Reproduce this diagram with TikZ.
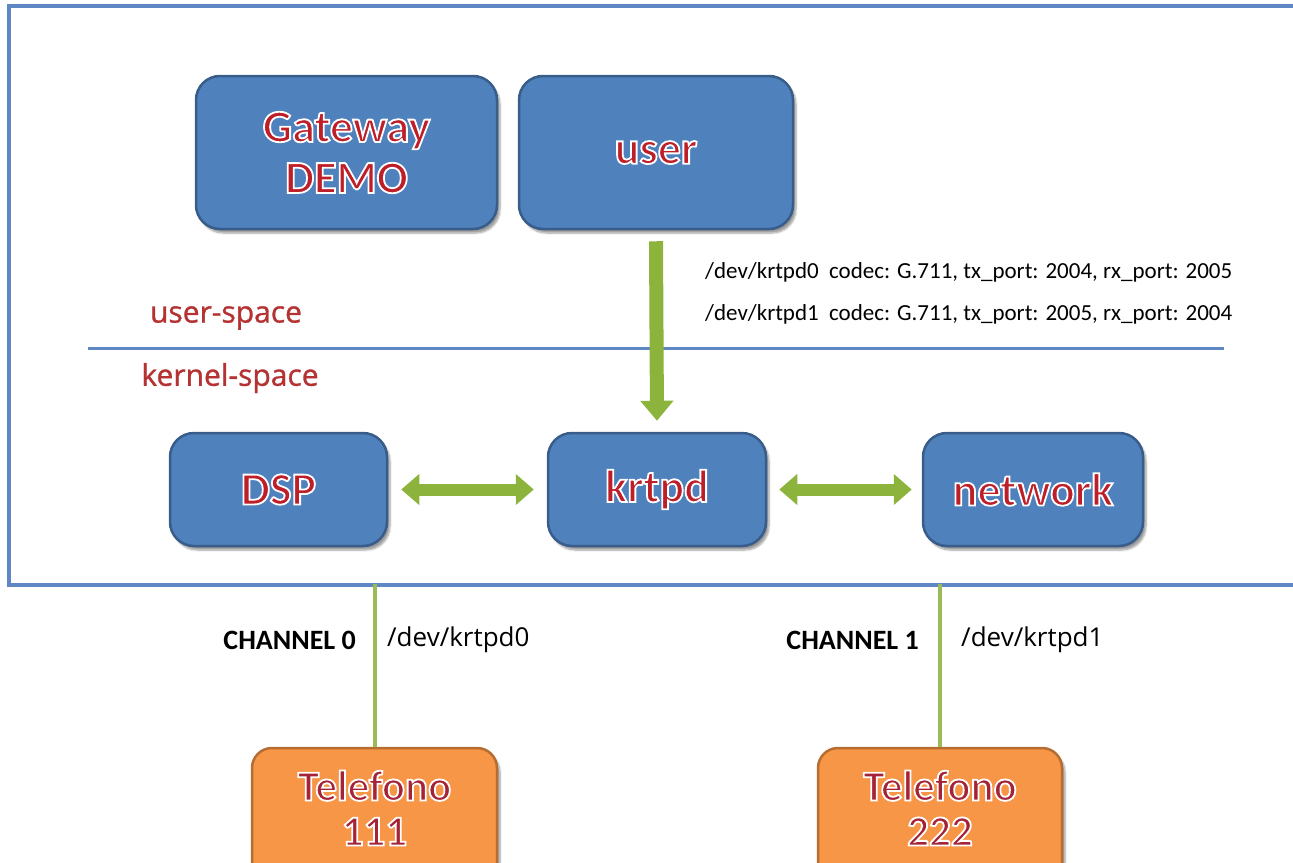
\documentclass[tikz,border=0pt]{standalone}
\usepackage{fontspec}
\setmainfont{Carlito}
\newfontfamily\segoe{Open Sans}
\newfontfamily\segoemed[FakeBold=1]{Open Sans}
\usetikzlibrary{arrows.meta,shadows.blur}
\definecolor{boxblue}{RGB}{79,129,189}
\definecolor{boxedge}{RGB}{56,93,138}
\definecolor{orangefill}{RGB}{247,150,70}
\definecolor{orangeedge}{RGB}{182,109,49}
\definecolor{txtred}{RGB}{190,30,40}
\definecolor{phred}{RGB}{165,35,55}
\definecolor{labred}{RGB}{180,50,50}
\definecolor{arrowgreen}{RGB}{140,180,60}
\definecolor{linegreen}{RGB}{155,187,89}
\definecolor{frameblue}{RGB}{95,135,195}
\newcommand{\glowtxt}[1]{\special{pdf:literal direct 2 Tr 1 1 1 RG 1.8 w}#1\special{pdf:literal direct 0 Tr}}
\begin{document}
\begin{tikzpicture}[x=1pt,y=-1pt,
  bluebox/.style={draw=boxedge, line width=2.5pt, fill=boxblue, rounded corners=24pt,
     inner sep=0pt, align=center, text=txtred, font=\fontsize{46}{51}\selectfont\bfseries,
     blur shadow={shadow xshift=3pt, shadow yshift=-4pt, shadow blur steps=6}},
  orangebox/.style={draw=orangeedge, line width=2.5pt, fill=orangefill, rounded corners=20pt,
     inner sep=0pt, blur shadow={shadow xshift=3pt, shadow yshift=-4pt, shadow blur steps=6}},
  phonetext/.style={align=center, inner sep=0pt, text=phred, font=\fontsize{43}{45}\selectfont\bfseries},
  bigarrow/.style={arrowgreen, line width=14pt, -{Triangle[width=32pt,length=20pt]}},
  dblarrow/.style={arrowgreen, line width=12pt, {Triangle[width=30pt,length=18pt]}-{Triangle[width=30pt,length=18pt]}},
  chanline/.style={linegreen, line width=4pt},
  sepline/.style={frameblue, line width=3pt},
  spacelabel/.style={labred, inner sep=0pt, font=\segoemed\fontsize{30}{34}\selectfont},
  conftext/.style={anchor=west, inner sep=0pt, font=\fontsize{23}{26}\selectfont},
  chantext/.style={anchor=east, inner sep=0pt, font=\fontsize{28}{30}\selectfont\bfseries},
  devtext/.style={anchor=west, inner sep=0pt, font=\segoe\fontsize{26}{28}\selectfont}
]
\useasboundingbox (0,0) rectangle (1293,862);
% outer frame
\draw[frameblue, line width=4pt] (1320,6) -- (9,6) -- (9,585) -- (1320,585);
% separator
\coordinate (sepL) at (88,348);
\coordinate (sepR) at (1224,348);
\draw[sepline] (sepL) -- (sepR);
% boxes
\node[bluebox, minimum width=301pt, minimum height=153pt] (gw) at (346.5,152.5) {\glowtxt{Gateway}\\\glowtxt{DEMO}};
\node[bluebox, minimum width=274pt, minimum height=153pt] (user) at (656,152.5) {\glowtxt{user}};
\node[bluebox, minimum width=217pt, minimum height=113pt] (dsp) at (278.5,489.5) {\glowtxt{DSP}};
\node[bluebox, minimum width=218pt, minimum height=113pt] (krtpd) at (657,489.5) {\glowtxt{krtpd}};
\node[bluebox, minimum width=220pt, minimum height=113pt] (net) at (1033,489.5) {\glowtxt{network}};
% labels
\node[spacelabel] (us) at (226,318) {user-space};
\node[spacelabel] (ks) at (230,378) {kernel-space};
\node[conftext] (cf0) at (705,272) {/dev/krtpd0\ \ codec: G.711, tx\_port: 2004, rx\_port: 2005};
\node[conftext] (cf1) at (705,314) {/dev/krtpd1\ \ codec: G.711, tx\_port: 2005, rx\_port: 2004};
% arrows
\draw[bigarrow] ([yshift=-11pt]user.south) -- ([yshift=11pt]krtpd.north);
\draw[dblarrow] ([xshift=13pt]dsp.east) -- ([xshift=-13pt]krtpd.west);
\draw[dblarrow] ([xshift=12pt]krtpd.east) -- ([xshift=-10pt]net.west);
% phones
\node[orangebox, minimum width=245pt, minimum height=140pt] (ph1) at (374.5,818) {};
\node[orangebox, minimum width=244pt, minimum height=140pt] (ph2) at (940,818) {};
\node[phonetext] (ph1t) at (374.5,808) {\glowtxt{Telefono}\\\glowtxt{111}};
\node[phonetext] (ph2t) at (940,808) {\glowtxt{Telefono}\\\glowtxt{222}};
% channel lines
\path (ph1.north) ++(0,-163) coordinate (c0);
\path (ph2.north) ++(0,-163) coordinate (c1);
\draw[chanline] (c0) -- (ph1.north);
\draw[chanline] (c1) -- (ph2.north);
\node[chantext] (ch0) at (356,640) {CHANNEL 0};
\node[devtext] (d0) at (387,640) {/dev/krtpd0};
\node[chantext] (ch1) at (919,640) {CHANNEL 1};
\node[devtext] (d1) at (961,640) {/dev/krtpd1};
\end{tikzpicture}
\end{document}
